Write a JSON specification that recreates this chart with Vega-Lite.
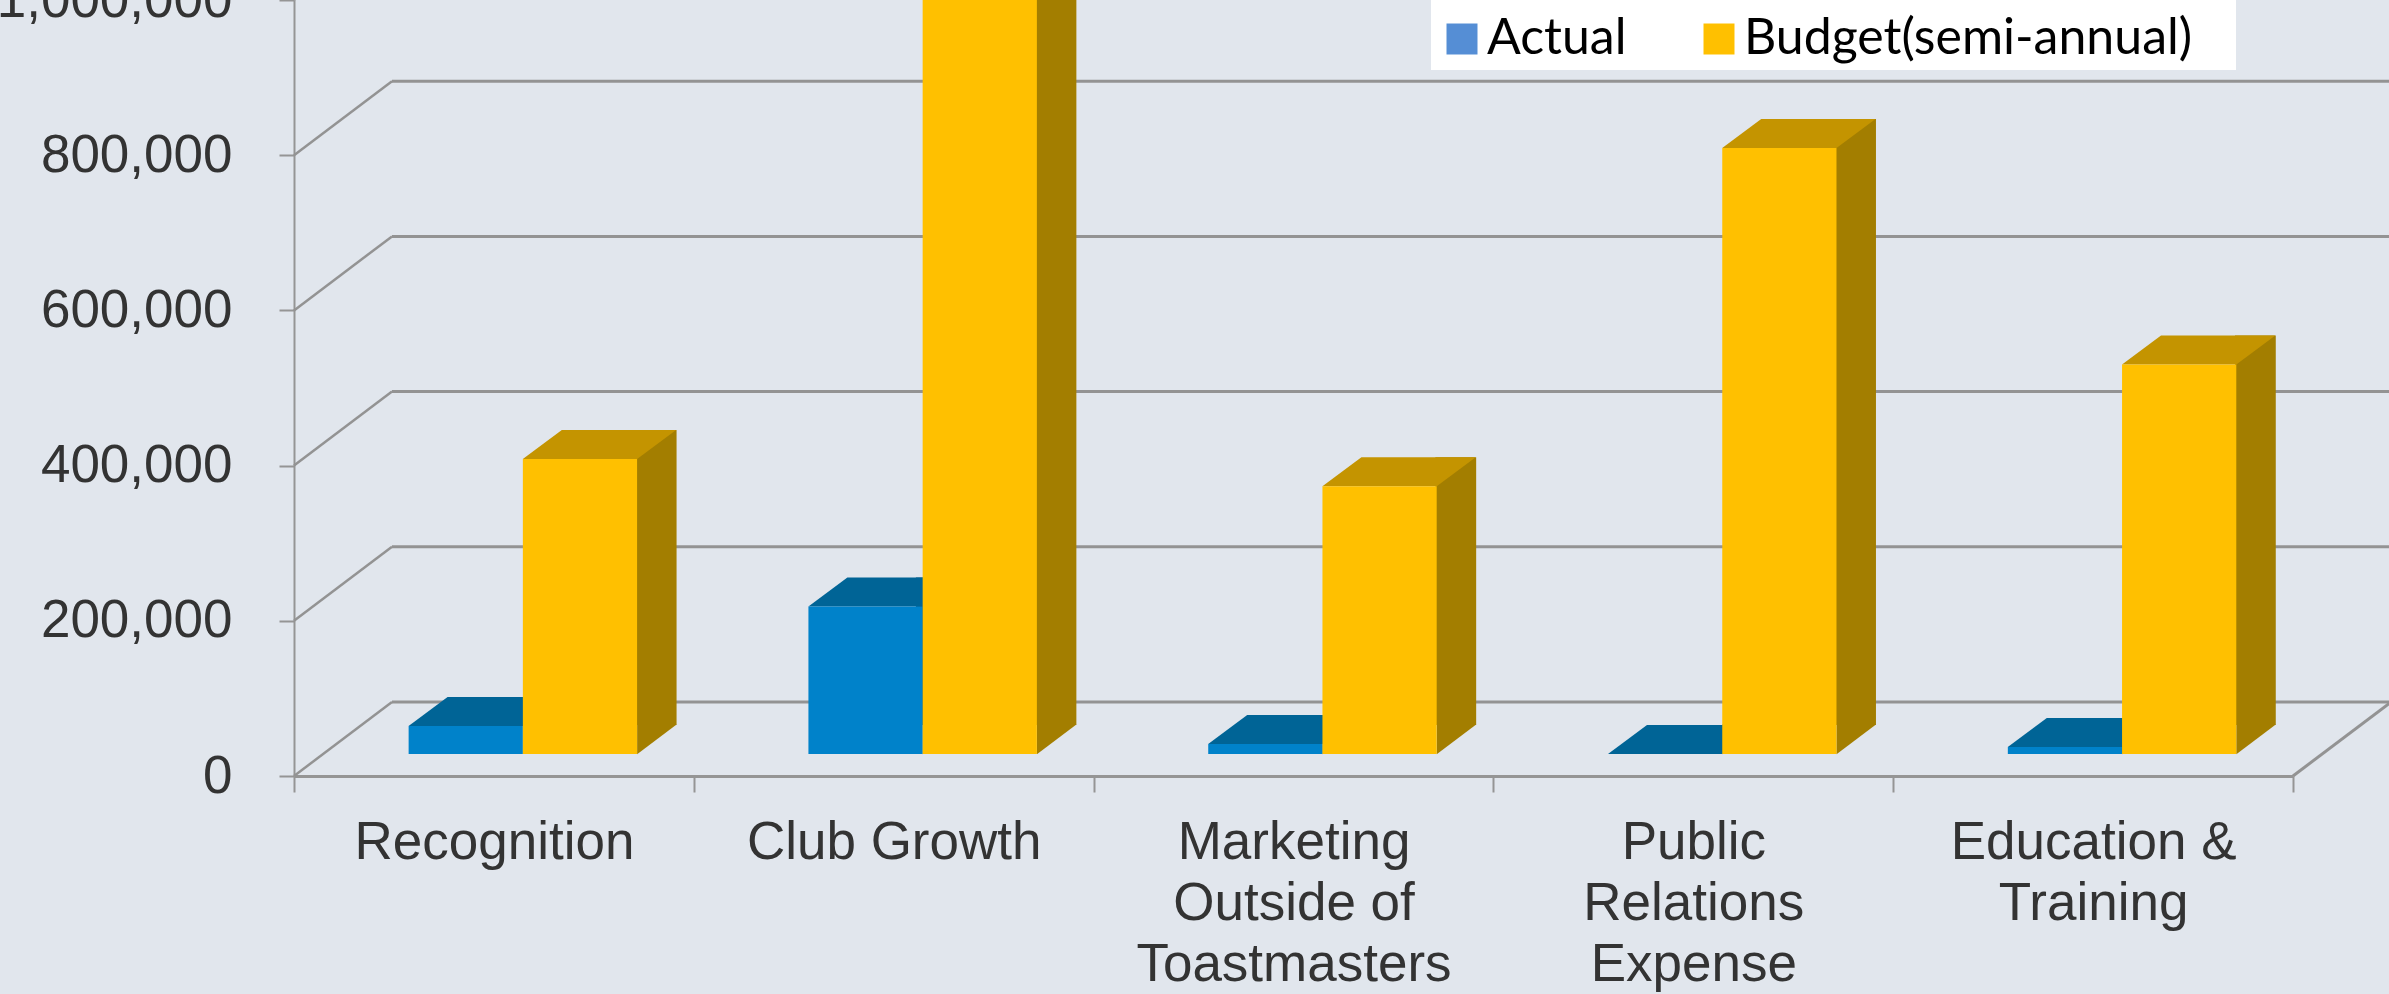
{
  "$schema": "https://vega.github.io/schema/vega-lite/v6.json",
  "width": 1999,
  "height": 776,
  "autosize": {"type": "none"},
  "padding": {"left": 294, "top": 0, "right": 96, "bottom": 218},
  "background": "#E1E6ED",
  "config": {"view": {"stroke": null}, "font": "Liberation Sans"},
  "layer": [
    {
      "data": {"values": [{"tick": 0}, {"tick": 200000}, {"tick": 400000}, {"tick": 600000}, {"tick": 800000}, {"tick": 1000000}]},
      "layer": [
        {
          "mark": {"type": "rule", "color": "#939393", "strokeWidth": 3, "xOffset": 98, "x2Offset": 98, "yOffset": -74},
          "encoding": {
            "x": {"value": 0},
            "x2": {"value": "width"},
            "y": {
              "field": "tick", "type": "quantitative", "scale": {"domain": [0, 1000000], "nice": false, "zero": false},
              "axis": {
                "title": null, "values": [0, 200000, 400000, 600000, 800000, 1000000], "format": ",.0f",
                "labelExpr": "format(datum.value, ',.0f')", "labelLimit": 500,
                "domainColor": "#959595", "domainWidth": 2, "tickColor": "#959595", "tickWidth": 2, "tickSize": 15,
                "labelFont": "Liberation Sans", "labelFontSize": 53, "labelColor": "#333333", "labelPadding": 47, "grid": false
              }
            }
          }
        },
        {
          "mark": {"type": "rule", "color": "#939393", "strokeWidth": 2.5, "x2Offset": 98, "y2Offset": -74},
          "encoding": {
            "x": {"value": 0},
            "x2": {"value": 0},
            "y": {"field": "tick", "type": "quantitative"},
            "y2": {"field": "tick"}
          }
        },
        {
          "transform": [{"filter": "datum.tick == 0"}],
          "mark": {"type": "rule", "color": "#939393", "strokeWidth": 3, "x2Offset": 98, "y2Offset": -74},
          "encoding": {
            "x": {"value": "width"},
            "x2": {"value": "width"},
            "y": {"field": "tick", "type": "quantitative"},
            "y2": {"field": "tick"}
          }
        }
      ]
    },
    {
      "data": {"values": [
        {"category": "Recognition", "series": "Actual", "value": 36000},
        {"category": "Recognition", "series": "Budget(semi-annual)", "value": 380000},
        {"category": "Club Growth", "series": "Actual", "value": 190000},
        {"category": "Club Growth", "series": "Budget(semi-annual)", "value": 1200000},
        {"category": "Marketing Outside of Toastmasters", "series": "Actual", "value": 13000},
        {"category": "Marketing Outside of Toastmasters", "series": "Budget(semi-annual)", "value": 345000},
        {"category": "Public Relations Expense", "series": "Actual", "value": 0},
        {"category": "Public Relations Expense", "series": "Budget(semi-annual)", "value": 781000},
        {"category": "Education & Training", "series": "Actual", "value": 9000},
        {"category": "Education & Training", "series": "Budget(semi-annual)", "value": 502000}
      ]},
      "encoding": {
        "x": {
          "field": "category", "type": "nominal", "sort": null,
          "scale": {"type": "band", "paddingInner": 0, "paddingOuter": 0},
          "axis": {
            "title": null, "domainColor": "#959595", "domainWidth": 3, "tickColor": "#959595", "tickWidth": 2,
            "tickSize": 16, "tickBand": "extent", "labelFont": "Liberation Sans", "labelFontSize": 53,
            "labelColor": "#333333", "labelPadding": 24, "labelLineHeight": 61, "labelAngle": 0, "labelLimit": 600,
            "labelOverlap": false,
            "labelExpr": "datum.label == 'Marketing Outside of Toastmasters' ? ['Marketing', 'Outside of', 'Toastmasters'] : datum.label == 'Public Relations Expense' ? ['Public', 'Relations', 'Expense'] : datum.label == 'Education & Training' ? ['Education &', 'Training'] : datum.label"
          }
        },
        "xOffset": {"field": "series", "type": "nominal", "sort": null, "scale": {"type": "band", "paddingInner": 0, "paddingOuter": 0.75, "align": 0.669}},
        "y": {
          "field": "value", "type": "quantitative",
          "scale": {"domain": [0, 1000000], "nice": false, "zero": false},
          "axis": {
            "title": null, "values": [0, 200000, 400000, 600000, 800000, 1000000], "format": ",.0f",
            "labelExpr": "format(datum.value, ',.0f')", "labelLimit": 500,
            "domainColor": "#959595", "domainWidth": 2, "tickColor": "#959595", "tickWidth": 2, "tickSize": 15,
            "labelFont": "Liberation Sans", "labelFontSize": 53, "labelColor": "#333333", "labelPadding": 47, "grid": false
          }
        }
      },
      "resolve": {"scale": {"xOffset": "independent"}},
      "layer": [
        {
          "mark": {"type": "point", "opacity": 0, "filled": true},
          "encoding": {
            "color": {
              "field": "series", "type": "nominal", "sort": null,
              "scale": {"domain": ["Actual", "Budget(semi-annual)"], "range": ["#558ED5", "#FFC000"]},
              "legend": {
                "orient": "none", "legendX": 1137, "legendY": -12, "direction": "horizontal", "columns": 2,
                "title": " ", "titleFontSize": 20, "titlePadding": 0,
                "fillColor": "#FFFFFF", "padding": 6, "symbolType": "square", "symbolSize": 961,
                "symbolStrokeWidth": 0, "symbolOpacity": 1, "labelFont": "Lato", "labelFontSize": 50,
                "labelColor": "#000000", "labelOffset": 0, "columnPadding": 67, "labelLimit": 700,
                "labelExpr": "datum.label == 'Budget(semi-annual)' ? datum.label + '\u2800' : datum.label"
              }
            }
          }
        },
        {
          "mark": {"type": "bar", "yOffset": -51, "y2Offset": -51, "strokeWidth": 0},
          "encoding": {
            "xOffset": {"field": "series", "type": "nominal", "sort": null, "scale": {"type": "band", "paddingInner": 0.659, "paddingOuter": 1.0795, "align": 0.928}},
            "y2": {"datum": 0},
            "fill": {"condition": {"test": "datum.series === 'Actual'", "value": "#00557F"}, "value": "#A37E00"}
          }
        },
        {
          "mark": {"type": "point", "filled": true, "shape": "M57.15,-29.5L57.15,0.3L96.6,-29.5Z", "size": 4, "yOffset": -22, "strokeWidth": 0, "opacity": 1},
          "encoding": {
            "y": {"datum": 0, "type": "quantitative"},
            "fill": {"condition": {"test": "datum.series === 'Actual'", "value": "#00557F"}, "value": "#A37E00"}
          }
        },
        {
          "mark": {"type": "point", "filled": true, "shape": "M-57.15,0L57.15,0L96.15,-29L-18.15,-29Z", "size": 4, "yOffset": -22, "strokeWidth": 0, "opacity": 1},
          "encoding": {
            "fill": {"condition": {"test": "datum.series === 'Actual'", "value": "#006496"}, "value": "#C49400"}
          }
        },
        {
          "mark": {"type": "bar", "yOffset": -22, "y2Offset": -22, "strokeWidth": 0},
          "encoding": {
            "y2": {"datum": 0},
            "fill": {"condition": {"test": "datum.series === 'Actual'", "value": "#0082CA"}, "value": "#FFC000"}
          }
        }
      ]
    }
  ]
}
